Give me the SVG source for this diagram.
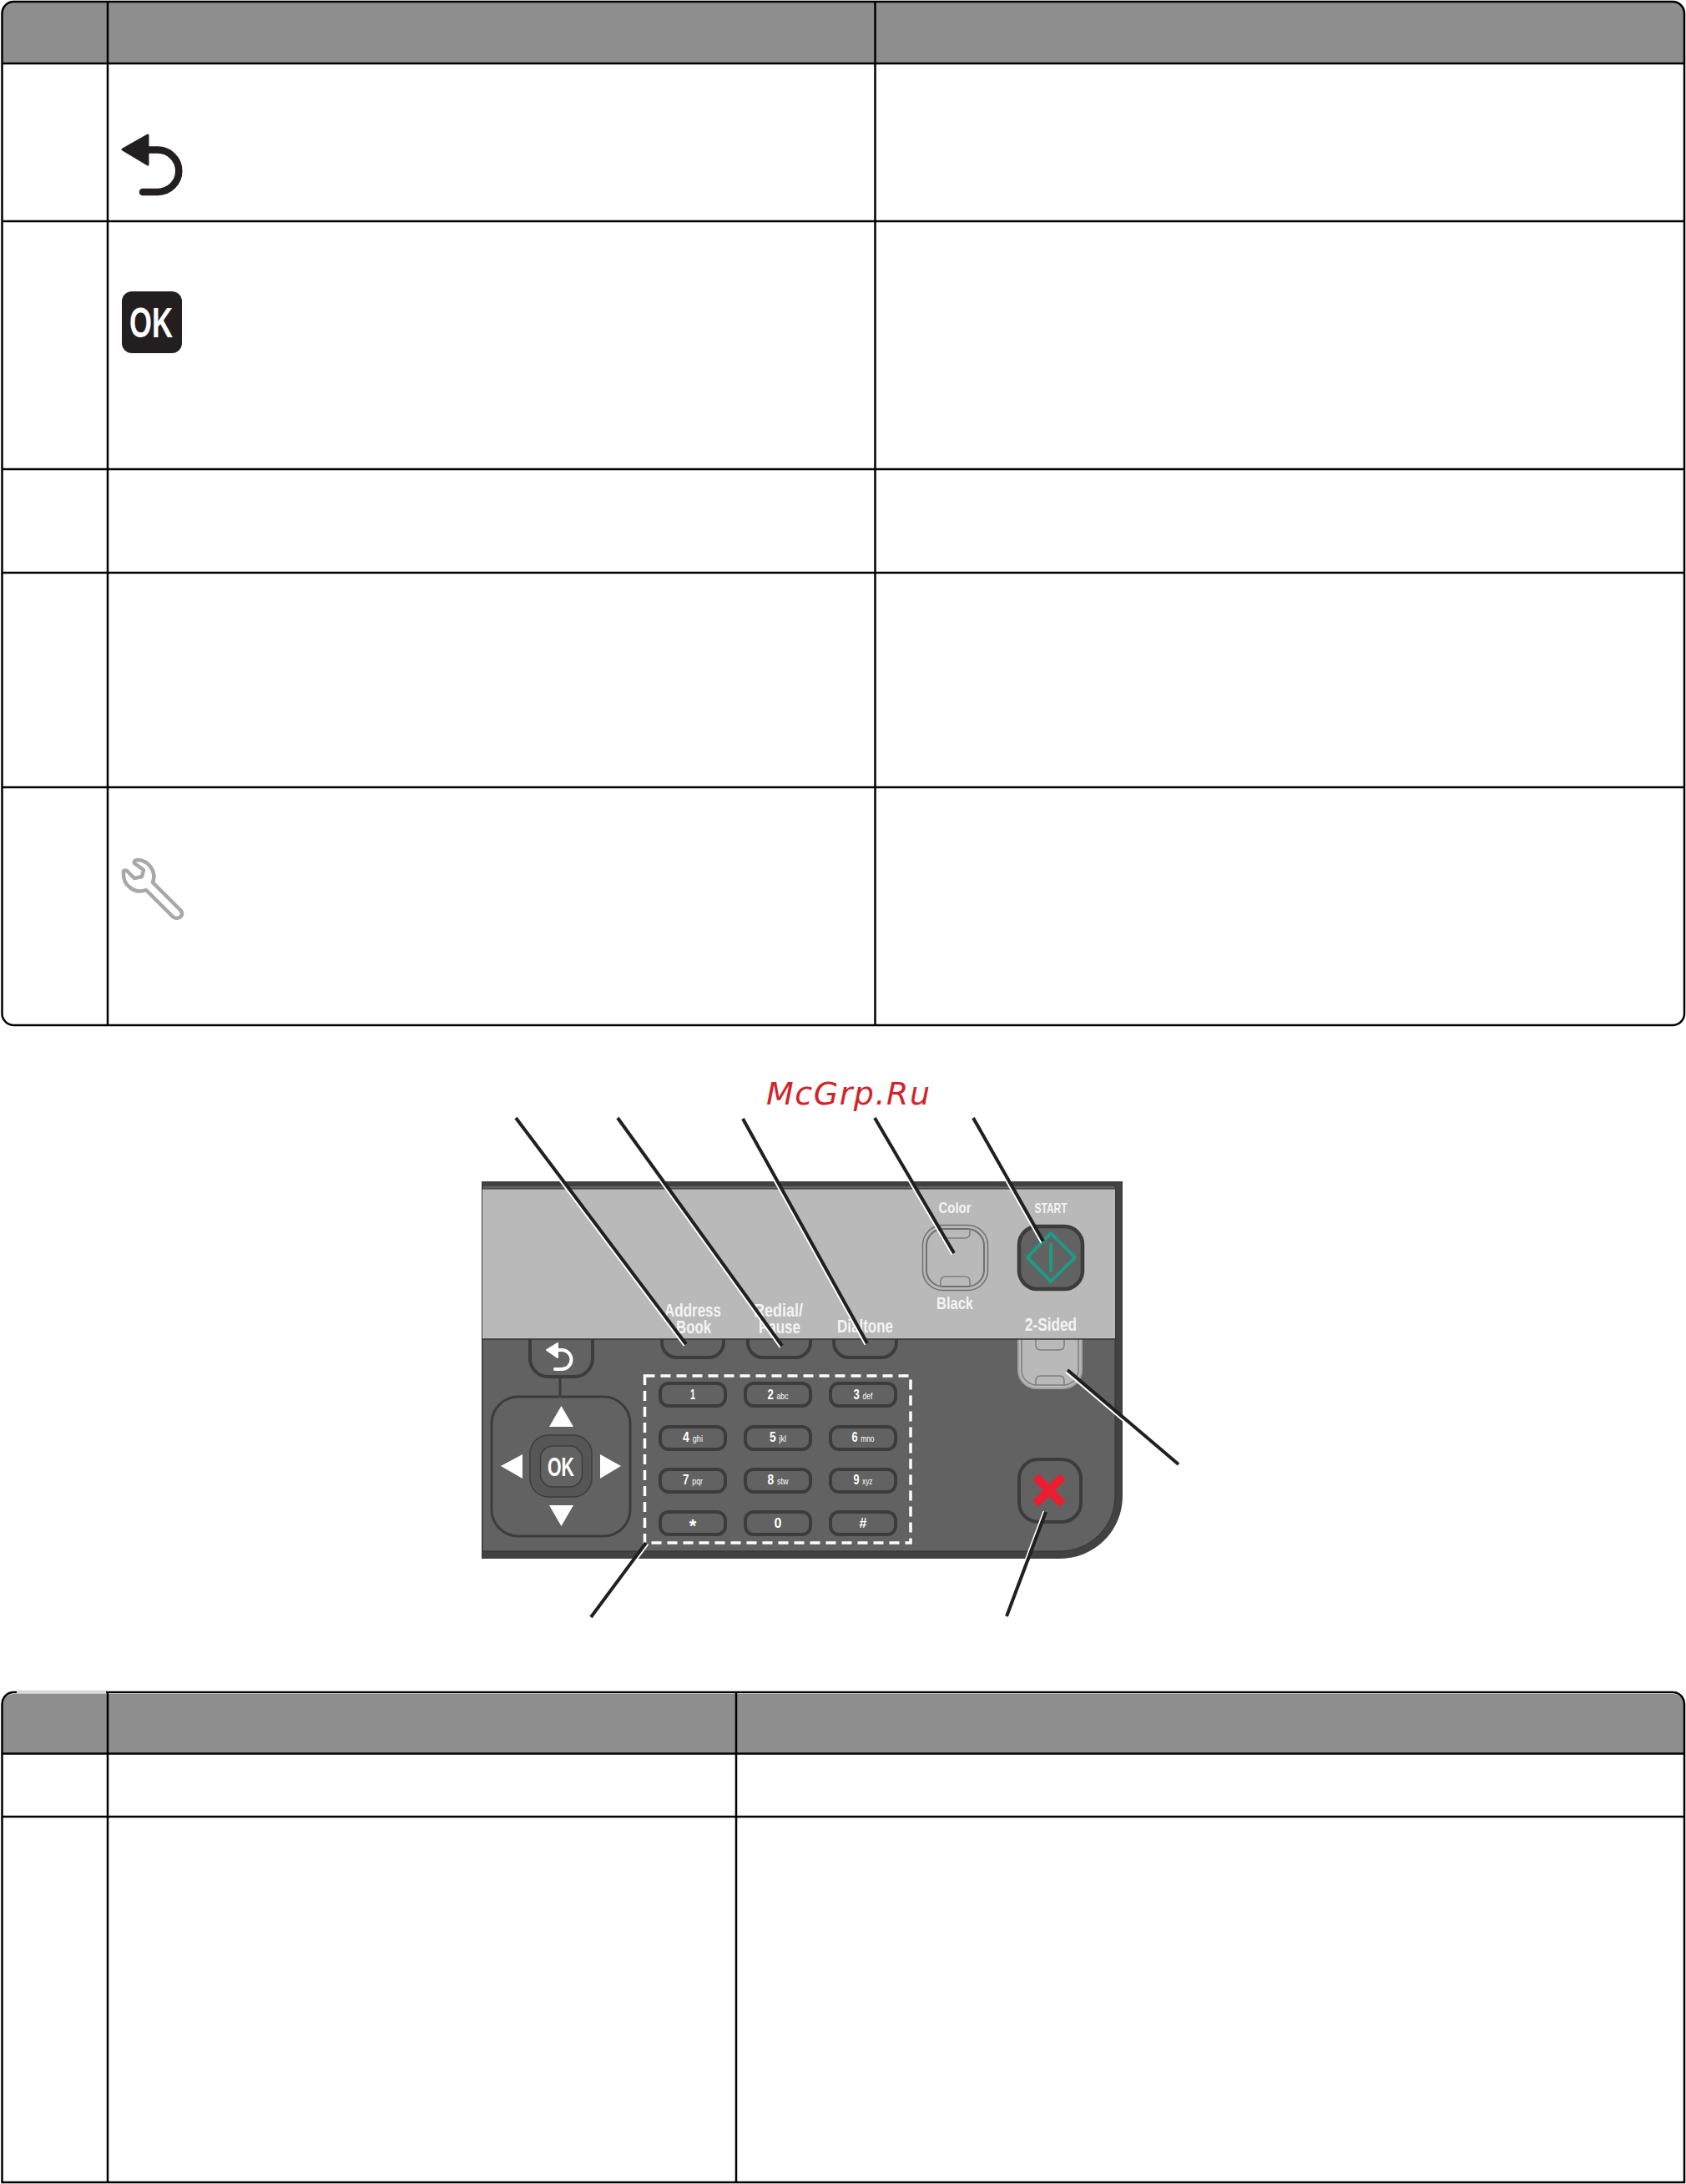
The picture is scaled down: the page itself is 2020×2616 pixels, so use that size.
<svg xmlns="http://www.w3.org/2000/svg" width="2020" height="2616" viewBox="0 0 2020 2616">
<style>
.grid{fill:none;stroke:#000;stroke-width:2.5}
.head{fill:#8e8e8e}
.key{fill:#636262;stroke:#3d3c3b;stroke-width:4}
.lbl{font-family:"Liberation Sans Narrow","Liberation Sans",sans-serif;font-weight:700;fill:#fff;text-anchor:middle}
.pl{font-size:22px;fill:#f4f4f4}
.kt{font-size:16px}
.sm{font-size:10.5px;font-weight:400}
.ghost{fill:none;stroke:#7d7d7d;stroke-width:1.5}
.lead{stroke:#231f20;stroke-width:4;fill:none}
.halo{stroke:#fff;stroke-width:2;fill:none}
.tri{fill:#fff}
</style>
<rect width="2020" height="2616" fill="#fff"/>
<g id="table-top">
<path class="head" d="M2.5,76V16A14,14 0 0 1 16.5,2H2004A14,14 0 0 1 2018,16V76Z"/>
<path class="grid" d="M16.5,2H2004A14,14 0 0 1 2018,16V1214A14,14 0 0 1 2004,1228H16.5A14,14 0 0 1 2.5,1214V16A14,14 0 0 1 16.5,2Z"/>
<path class="grid" d="M2.5,76H2018M2.5,265H2018M2.5,562H2018M2.5,686H2018M2.5,943H2018M129,2V1228M1048.5,2V1228"/>
</g>
<g id="icon-back"><path d="M147,179L177,162V197Z" fill="#231f20" stroke="#231f20" stroke-width="3" stroke-linejoin="round"/><path d="M177,179.500H189A25,25 0 0 1 189,230H171" fill="none" stroke="#231f20" stroke-width="8.500" stroke-linecap="round"/></g>
<g id="icon-ok"><rect x="146" y="349" width="72" height="74" rx="12" fill="#231f20"/><text class="lbl" x="181" y="404" font-size="50" textLength="52" lengthAdjust="spacingAndGlyphs">OK</text></g>
<g id="icon-wrench"><path d="M161,1034Q160,1030 165,1030A20,20 0 0 1 183,1057L217,1091Q220,1096 215,1099Q210,1101 207,1098L175,1066A20,20 0 0 1 148,1046Q147,1041 152,1043L161,1052L170,1050L172,1042Z" fill="none" stroke="#a8a8a8" stroke-width="4.500" stroke-linejoin="round"/></g>
<text id="watermark" x="918" y="1323" font-family="DejaVu Sans,sans-serif" font-style="italic" font-size="38" fill="#d2232a" textLength="196">McGrp.Ru</text>
<g id="panel">
<path d="M577,1415H1345V1792A75,75 0 0 1 1270,1867H577Z" fill="#434240"/>
<path d="M578,1420H1336V1792A66,66 0 0 1 1270,1858H578Z" fill="#636262" stroke="#333" stroke-width="1"/>
</g>
<g id="btn-back"><rect class="key" x="635" y="1580" width="75" height="69" rx="22"/><path d="M671,1651V1672" stroke="#3d3c3b" stroke-width="3"/><path d="M655,1617L668,1609V1626Z" class="tri" stroke="#fff" stroke-width="2" stroke-linejoin="round"/><path d="M668,1617H673A11.500,11.500 0 0 1 673,1640H665" fill="none" stroke="#fff" stroke-width="4" stroke-linecap="round"/></g>
<g id="btn-address"><rect class="key" x="793" y="1580" width="74" height="46" rx="18"/></g>
<g id="btn-redial"><rect class="key" x="896" y="1580" width="75" height="46" rx="18"/></g>
<g id="btn-dialtone"><rect class="key" x="999" y="1580" width="75" height="46" rx="18"/></g>
<g id="dpad">
<rect x="589" y="1673" width="166" height="167" rx="32" fill="#636262" stroke="#3d3c3b" stroke-width="3"/>
<path class="tri" d="M672.500,1684L687,1709H658Z"/><path class="tri" d="M658,1803H687L672.500,1828Z"/><path class="tri" d="M600,1756L626,1742V1771Z"/><path class="tri" d="M719,1742L744,1756L719,1771Z"/>
<rect x="635" y="1719" width="74" height="74" rx="22" fill="#575656" stroke="#3d3c3b" stroke-width="1.500"/>
<rect x="647.500" y="1732" width="50" height="49" rx="15" fill="#636262" stroke="#3d3c3b" stroke-width="1.500"/>
<text class="lbl" x="672" y="1768" font-size="32" textLength="32" lengthAdjust="spacingAndGlyphs">OK</text>
</g>
<g id="keypad">
<rect x="772.500" y="1648" width="318.500" height="200" fill="none" stroke="#fff" stroke-width="3.500" stroke-dasharray="12 7"/>
<g id="key-1"><rect class="key" x="791" y="1657" width="78" height="27" rx="10"/><text class="lbl kt" x="830" y="1676" textLength="6" lengthAdjust="spacingAndGlyphs">1</text></g>
<g id="key-2"><rect class="key" x="893" y="1657" width="78" height="27" rx="10"/><text class="lbl kt" x="932" y="1676" textLength="25" lengthAdjust="spacingAndGlyphs">2 <tspan class="sm">abc</tspan></text></g>
<g id="key-3"><rect class="key" x="995" y="1657" width="78" height="27" rx="10"/><text class="lbl kt" x="1034" y="1676" textLength="23" lengthAdjust="spacingAndGlyphs">3 <tspan class="sm">def</tspan></text></g>
<g id="key-4"><rect class="key" x="791" y="1709" width="78" height="27" rx="10"/><text class="lbl kt" x="830" y="1727" textLength="24" lengthAdjust="spacingAndGlyphs">4 <tspan class="sm">ghi</tspan></text></g>
<g id="key-5"><rect class="key" x="893" y="1709" width="78" height="27" rx="10"/><text class="lbl kt" x="932" y="1727" textLength="20" lengthAdjust="spacingAndGlyphs">5 <tspan class="sm">jkl</tspan></text></g>
<g id="key-6"><rect class="key" x="995" y="1709" width="78" height="27" rx="10"/><text class="lbl kt" x="1034" y="1727" textLength="27" lengthAdjust="spacingAndGlyphs">6 <tspan class="sm">mno</tspan></text></g>
<g id="key-7"><rect class="key" x="791" y="1760" width="78" height="27" rx="10"/><text class="lbl kt" x="830" y="1778" textLength="24" lengthAdjust="spacingAndGlyphs">7 <tspan class="sm">pqr</tspan></text></g>
<g id="key-8"><rect class="key" x="893" y="1760" width="78" height="27" rx="10"/><text class="lbl kt" x="932" y="1778" textLength="25" lengthAdjust="spacingAndGlyphs">8 <tspan class="sm">stw</tspan></text></g>
<g id="key-9"><rect class="key" x="995" y="1760" width="78" height="27" rx="10"/><text class="lbl kt" x="1034" y="1778" textLength="23" lengthAdjust="spacingAndGlyphs">9 <tspan class="sm">xyz</tspan></text></g>
<g id="key-star"><rect class="key" x="791" y="1811" width="78" height="27" rx="10"/><text class="lbl" x="830" y="1835" font-size="22">*</text></g>
<g id="key-0"><rect class="key" x="893" y="1811" width="78" height="27" rx="10"/><text class="lbl kt" x="932" y="1830">0</text></g>
<g id="key-hash"><rect class="key" x="995" y="1811" width="78" height="27" rx="10"/><text class="lbl kt" x="1034" y="1830">#</text></g>
</g>
<g id="btn-2sided"><rect x="1220" y="1580" width="76" height="83" rx="22" fill="#b9b9b9" stroke="#a3a3a3" stroke-width="2"/><rect x="1224" y="1580" width="68" height="79" rx="18" fill="#b9b9b9" stroke="#7d7d7d" stroke-width="1.500"/><path class="ghost" d="M1241,1600V1611Q1241,1617 1247,1617H1269Q1275,1617 1275,1611V1600"/><path class="ghost" d="M1241,1660V1654Q1241,1648 1247,1648H1269Q1275,1648 1275,1654V1660"/></g>
<g id="btn-cancel"><rect class="key" x="1221" y="1748" width="74" height="75" rx="23"/><path d="M1241,1769L1273,1801M1273,1769L1241,1801" stroke="#ed1c2e" stroke-width="10"/></g>
<g id="top-strip">
<rect x="578" y="1424" width="758" height="180" fill="#b9b9b9"/>
<path d="M578,1604H1336" stroke="#333" stroke-width="1.500"/>
<path d="M578,1424H1336" stroke="#333" stroke-width="1"/>
<text class="lbl pl" x="830" y="1577" textLength="68" lengthAdjust="spacingAndGlyphs">Address</text>
<text class="lbl pl" x="831" y="1597" textLength="42" lengthAdjust="spacingAndGlyphs">Book</text>
<text class="lbl pl" x="932.500" y="1577" textLength="59" lengthAdjust="spacingAndGlyphs">Redial/</text>
<text class="lbl pl" x="934" y="1597" textLength="50" lengthAdjust="spacingAndGlyphs">Pause</text>
<text class="lbl pl" x="1036.500" y="1596" textLength="67" lengthAdjust="spacingAndGlyphs">Dialtone</text>
<text class="lbl pl" x="1144" y="1453" style="font-size:18px" textLength="39" lengthAdjust="spacingAndGlyphs">Color</text>
<text class="lbl pl" x="1144" y="1568" textLength="44" lengthAdjust="spacingAndGlyphs" style="font-size:20px">Black</text>
<text class="lbl pl" x="1259" y="1453" textLength="39" lengthAdjust="spacingAndGlyphs" style="font-size:17px">START</text>
<text class="lbl pl" x="1259" y="1594" textLength="62" lengthAdjust="spacingAndGlyphs">2-Sided</text>
</g>
<g id="btn-color"><rect x="1105.500" y="1467.500" width="78" height="78" rx="24" fill="#b9b9b9" stroke="#6f6f6f" stroke-width="1.500"/><rect x="1110" y="1472" width="69" height="69" rx="20" fill="#b9b9b9" stroke="#6f6f6f" stroke-width="2"/><path class="ghost" d="M1162,1472V1477Q1162,1483 1156,1483H1127"/><path class="ghost" d="M1127,1541V1535Q1127,1529 1133,1529H1156Q1162,1529 1162,1535V1541"/></g>
<g id="btn-start"><rect x="1221" y="1469" width="76" height="75" rx="22" fill="#636262" stroke="#3d3c3b" stroke-width="4.500"/><path d="M1259,1477L1288,1506L1259,1535L1231,1506Z" fill="none" stroke="#1f9a86" stroke-width="4" stroke-linejoin="round"/><path d="M1259,1491V1522" stroke="#1f9a86" stroke-width="4" stroke-linecap="round"/></g>
<g id="connectors">
<g transform="translate(-2.400,1.800)"><path class="halo" d="M618,1339L822,1610M740,1339L937,1612M890,1340L1039,1609M1048,1339L1143,1501M1166,1339L1250,1487"/></g>
<g transform="translate(-2,2.500)"><path class="halo" d="M1279,1641L1412,1754"/></g>
<g transform="translate(-2.500,-1)"><path class="halo" d="M1253,1811L1206,1936"/></g>
<g transform="translate(2.500,1.500)"><path class="halo" d="M774,1848L708,1937"/></g>
<path class="lead" d="M618,1339L822,1610"/>
<path class="lead" d="M740,1339L937,1612"/>
<path class="lead" d="M890,1340L1039,1609"/>
<path class="lead" d="M1048,1339L1143,1501"/>
<path class="lead" d="M1166,1339L1250,1487"/>
<path class="lead" d="M1279,1641L1412,1754"/>
<path class="lead" d="M1253,1811L1206,1936"/>
<path class="lead" d="M774,1848L708,1937"/>
</g>
<g id="table-bottom">
<path class="head" d="M2.500,2100V2041A14,14 0 0 1 16.500,2029H2004A14,14 0 0 1 2018,2041V2100Z"/>
<path class="grid" d="M16.500,2027H2004A14,14 0 0 1 2018,2041V2614H2.500V2041A14,14 0 0 1 16.500,2027Z"/>
<path d="M20,2027H127" stroke="#ddd" stroke-width="2.500" fill="none"/>
<path class="grid" d="M2.500,2100.500H2018M2.500,2176H2018M129,2027V2614M882,2027V2614"/>
</g>
</svg>
